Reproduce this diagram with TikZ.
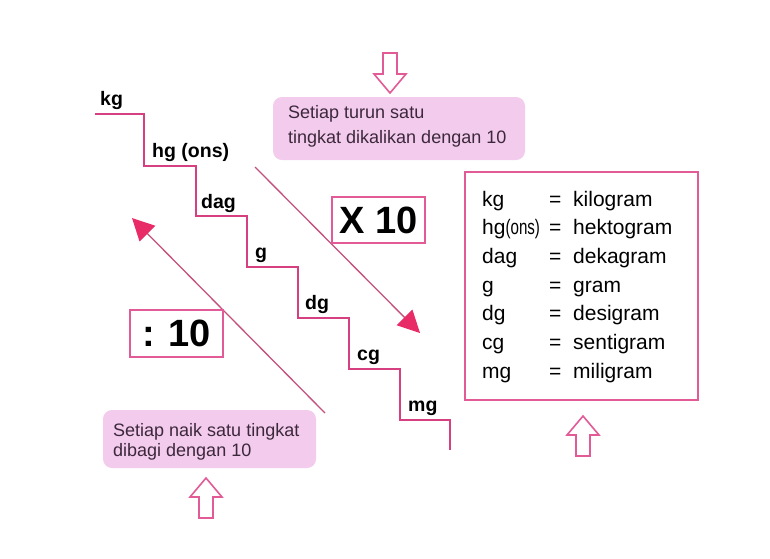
\documentclass[tikz,border=0pt]{standalone}
\usepackage{fontspec}
\setmainfont{Liberation Sans}
\usetikzlibrary{arrows.meta, positioning, calc}

\definecolor{stairpink}{RGB}{214,64,128}
\definecolor{boxpink}{RGB}{226,90,150}
\definecolor{notefill}{RGB}{243,203,236}
\definecolor{tipred}{RGB}{232,44,104}
\definecolor{linemauve}{RGB}{196,80,124}
\definecolor{notetext}{RGB}{60,40,60}

\begin{document}
\begin{tikzpicture}[
    x=1pt, y=-1pt,
    stair/.style={draw=stairpink, line width=2.6pt},
    unit/.style={anchor=base west, inner sep=0pt, font=\fontsize{19.5}{19.5}\selectfont\bfseries},
    note/.style={rectangle, fill=notefill, rounded corners=9pt, inner sep=0pt},
    notetxt/.style={anchor=base west, inner sep=0pt, align=left, text=notetext},
    factor/.style={rectangle, draw=boxpink, line width=2pt, inner sep=0pt, font=\fontsize{38}{38}\selectfont\bfseries},
    legendbox/.style={rectangle, draw=boxpink, line width=2.4pt, inner sep=0pt},
    arrow/.style={-{Triangle[length=22pt, width=22pt, color=tipred]}, draw=linemauve, line width=1.3pt},
    hollow/.pic={\draw[boxpink, line width=1.6pt, fill=white, line join=miter]
        (-7,0) -- (-7,21) -- (-16,21) -- (0,40) -- (16,21) -- (7,21) -- (7,0) -- cycle;},
]
\useasboundingbox (0,0) rectangle (770,558);

% Staircase
\draw[stair] (95,114) -| (144,166) -| (196,216) -| (247,267) -| (298,318)
    -| (349,369) -| (400,420) -| (450,450);

% Unit labels on the steps
\node[unit] (kg) at (100,105) {kg};
\node[unit] (hg) at (152,157) {hg (ons)};
\node[unit] (dag) at (201,208) {dag};
\node[unit] (g) at (255,258) {g};
\node[unit] (dg) at (305,309) {dg};
\node[unit] (cg) at (357,360) {cg};
\node[unit] (mg) at (408,411) {mg};

% Diagonal arrows
\coordinate (downstart) at (255,167);
\coordinate (downend) at (420,333);
\coordinate (upstart) at (325,413);
\coordinate (upend) at (132,218);
\draw[arrow] (downstart) -- (downend);
\draw[arrow] (upstart) -- (upend);

% Factor boxes
\node[factor, minimum width=93pt, minimum height=46pt, fill=white] (times) at (378.5,220) {X 10};
\node[factor, minimum width=93pt, minimum height=47pt, fill=white] (divide) at (176.5,333.5) {: 10};

% Notes (text anchored on its last line)
\node[note, minimum width=252pt, minimum height=63pt] (downnote) at (399,128.5) {};
\node[notetxt, font=\fontsize{18}{25}\selectfont] (downtxt) at (288,143)
    {Setiap turun satu\\tingkat dikalikan dengan 10};
\node[note, minimum width=213pt, minimum height=58pt] (upnote) at (209.5,439) {};
\node[notetxt, font=\fontsize{18}{20}\selectfont] (uptxt) at (113,456)
    {Setiap naik satu tingkat\\dibagi dengan 10};

% Hollow arrows
\pic at (390,53) {hollow};
\pic[rotate=180] at (206,518) {hollow};
\pic[rotate=180] at (583,456) {hollow};

% Legend
\node[legendbox, minimum width=233pt, minimum height=228pt] (legend) at (581.5,286) {};
\node[anchor=base west, inner sep=0pt, font=\fontsize{21}{28.7}\selectfont] (names)
    at (482,206) {\begin{tabular}[t]{@{}p{67pt}@{}p{24pt}@{}l@{}}
    kg & = & kilogram\\
    hg\scalebox{0.72}[1]{(ons)} & = & hektogram\\
    dag & = & dekagram\\
    g & = & gram\\
    dg & = & desigram\\
    cg & = & sentigram\\
    mg & = & miligram
    \end{tabular}};

\end{tikzpicture}
\end{document}
